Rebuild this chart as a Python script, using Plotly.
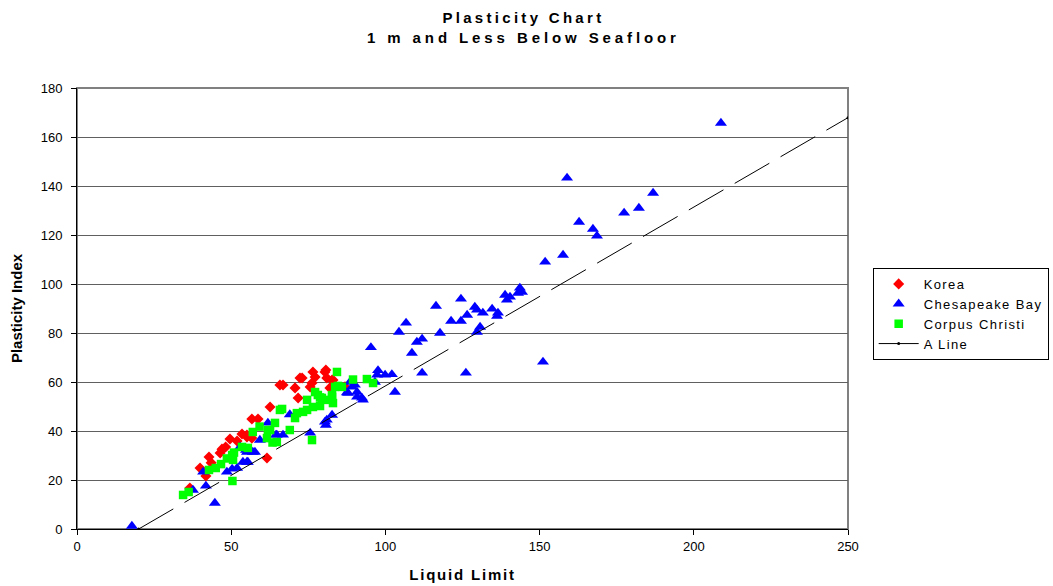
import plotly.graph_objects as go

# ---- data ----
korea_ll = [36.6, 39.9, 41.8, 42.8, 43.5, 46.4, 47.0, 48.2, 49.6, 51.9, 53.5, 55.1, 55.1, 56.7,
            56.7, 58.7, 61.6, 62.6, 65.8, 66.8, 70.7, 71.7, 72.3, 73.0, 75.6, 76.2, 76.5, 77.2,
            80.4, 80.7, 81.0, 82.0, 82.7, 83.0, 86.9]
korea_pi = [16.7, 24.9, 21.6, 29.4, 27.0, 31.0, 32.6, 33.5, 36.7, 35.9, 38.8, 37.6, 38.4, 37.1,
            44.9, 44.9, 29.0, 49.8, 58.8, 58.8, 57.6, 53.5, 61.6, 61.6, 58.0, 59.6, 64.1, 62.0,
            64.1, 64.9, 61.6, 57.6, 60.8, 60.8, 58.0]

ches_ll = [17.8, 37.6, 40.9, 41.8, 44.7, 48.6, 50.3, 51.9, 52.9, 53.8, 54.8, 55.1, 55.1, 55.4,
           57.0, 57.7, 59.3, 61.9, 64.5, 64.8, 66.8, 69.0, 75.6, 80.4, 80.7, 81.0, 82.7, 87.5,
           87.9, 88.5, 89.2, 90.1, 90.8, 90.8, 92.4, 92.7, 95.3, 96.6, 97.3, 97.6, 99.9, 102.1,
           103.1, 104.4, 106.7, 108.6, 110.2, 111.9, 111.9, 116.4, 117.7, 121.3, 124.5, 124.5,
           126.1, 126.5, 129.0, 129.7, 129.7, 130.7, 131.6, 134.6, 136.2, 136.5, 138.8, 139.4,
           140.4, 143.0, 143.6, 144.3, 151.1, 151.8, 157.6, 158.9, 162.8, 167.3, 168.6, 177.4,
           182.2, 186.8, 208.8]
ches_pi = [1.2, 15.9, 23.3, 17.6, 10.6, 23.3, 24.5, 24.9, 33.5, 27.3, 32.2, 27.3, 31.4, 27.3,
           31.4, 31.4, 36.3, 43.3, 38.4, 38.4, 38.4, 46.7, 39.2, 43.7, 42.4, 44.5, 46.5, 55.7,
           55.5, 60.0, 58.0, 58.8, 53.9, 55.9, 53.5, 52.7, 74.1, 60.0, 62.9, 64.7, 62.9, 63.1,
           55.9, 80.4, 84.1, 71.8, 76.3, 77.6, 63.7, 91.0, 80.0, 84.9, 84.9, 93.9,
           63.7, 87.3, 90.6, 89.4, 80.4, 82.4, 88.2, 89.8, 86.9, 88.2, 95.5, 93.5,
           94.7, 96.3, 98.4, 96.7, 68.2, 109.0, 111.8, 143.3, 125.3, 122.4, 119.6, 129.0,
           131.0, 137.1, 165.7]

cc_ll = [34.4, 36.2, 42.8, 45.0, 46.7, 48.6, 50.3, 50.6, 50.9, 50.4, 53.5, 55.4, 57.0, 59.2,
         61.6, 61.9, 62.6, 63.4, 64.2, 64.8, 65.8, 66.5, 69.0, 70.7, 71.3, 73.3, 74.6, 74.6,
         76.2, 76.5, 77.2, 78.1, 78.8, 78.8, 79.4, 81.4, 82.7, 82.7, 83.0, 83.7, 84.3, 84.6,
         85.9, 89.5, 94.0, 96.0]
cc_pi = [13.9, 15.1, 24.1, 24.9, 26.5, 28.8, 30.2, 28.2, 31.2, 19.6, 33.5, 33.1, 39.6, 41.8,
         37.1, 40.4, 40.4, 35.3, 43.3, 35.5, 48.6, 49.0, 40.4, 45.3, 47.3, 47.8, 48.6, 52.7,
         36.3, 49.8, 55.9, 54.7, 50.2, 53.7, 53.5, 52.7, 54.7, 53.9, 51.4, 58.0, 64.1, 58.4,
         58.0, 61.0, 61.2, 59.6]

aline_ll = [20, 250]
aline_pi = [0, 167.9]

y_ticks = [0, 20, 40, 60, 80, 100, 120, 140, 160, 180]
x_ticks = [0, 50, 100, 150, 200, 250]

series_names = ["Korea", "Chesapeake Bay", "Corpus Christi", "A Line"]
title_lines = ["Plasticity Chart", "1 m and Less Below Seafloor"]
x_title = "Liquid Limit"
y_title = "Plasticity Index"

FONT = "Liberation Sans, Arial, sans-serif"


def spaced(t, px):
    return '<span style="letter-spacing:%spx">%s</span>' % (px, t)


fig = go.Figure()
fig.add_trace(go.Scatter(x=korea_ll, y=korea_pi, mode="markers", name=spaced(series_names[0], 1.4),
                         marker=dict(symbol="diamond", color="#FF0000", size=8.5, line=dict(width=0))))
fig.add_trace(go.Scatter(x=ches_ll, y=ches_pi, mode="markers", name=spaced(series_names[1], 1.4),
                         marker=dict(symbol="triangle-up", color="#0000FF", size=10.5, line=dict(width=0))))
fig.add_trace(go.Scatter(x=cc_ll, y=cc_pi, mode="markers", name=spaced(series_names[2], 1.4),
                         marker=dict(symbol="square", color="#00FF00", size=8.5, line=dict(width=0))))
fig.add_trace(go.Scatter(x=aline_ll, y=aline_pi, mode="lines+markers", name=spaced(series_names[3], 1.4),
                         line=dict(color="black", width=1, dash="40px,13px"),
                         marker=dict(symbol="circle", color="black", size=3)))

# grey plot-area border (top/right)
fig.add_shape(type="rect", xref="paper", yref="paper", x0=0, y0=0, x1=1, y1=1,
              line=dict(color="#808080", width=2), layer="below")

# two-line title
fig.add_annotation(text="<b>" + spaced(title_lines[0], 3.3) + "<br>" + spaced(title_lines[1], 3.9) + "</b>",
                   xref="paper", yref="paper", x=(523.5 - 77) / 771, y=(529 - 7) / 441,
                   xanchor="center", yanchor="top", showarrow=False,
                   font=dict(family=FONT, size=15, color="black"))

fig.update_layout(
    width=1053, height=586,
    margin=dict(l=77, r=205, t=88, b=57, autoexpand=False),
    paper_bgcolor="white", plot_bgcolor="white",
    font=dict(family=FONT, size=12, color="black"),
    showlegend=True,
    legend=dict(x=1.032, y=0.592, xanchor="left", yanchor="top",
                bordercolor="black", borderwidth=1, bgcolor="white",
                font=dict(family=FONT, size=13), tracegroupgap=0, itemwidth=40),
    xaxis=dict(range=[0, 250], tickvals=x_ticks, ticks="outside", ticklen=5, tickcolor="black",
               showline=True, linecolor="black", linewidth=1, showgrid=False, zeroline=False,
               tickfont=dict(family=FONT, size=13),
               title=dict(text="<b>" + spaced(x_title, 1.8) + "</b>", font=dict(family=FONT, size=15), standoff=16)),
    yaxis=dict(range=[0, 180], tickvals=y_ticks, ticks="outside", ticklen=5, tickcolor="black",
               showline=True, linecolor="black", linewidth=1, showgrid=True,
               gridcolor="#606060", gridwidth=1, zeroline=False,
               tickfont=dict(family=FONT, size=13), ticklabelstandoff=6,
               title=dict(text="<b>" + y_title + "</b>", font=dict(family=FONT, size=15), standoff=14)),
)

fig.write_html("out.html")
